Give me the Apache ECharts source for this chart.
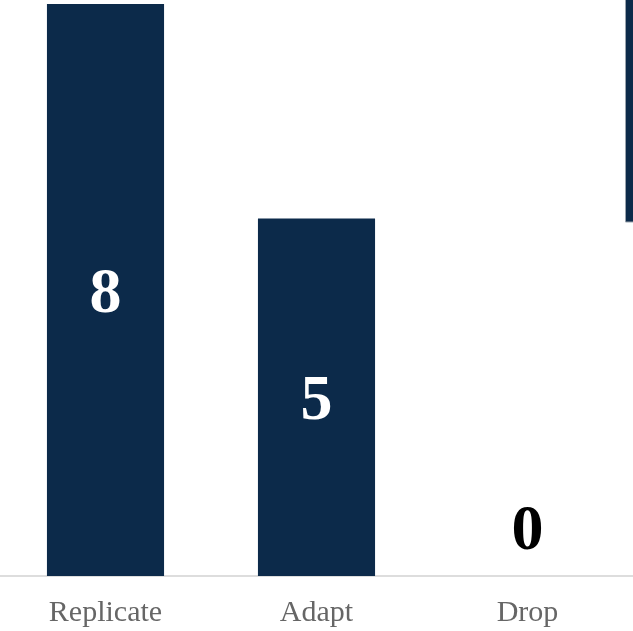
<!DOCTYPE html>
<html>
<head>
<meta charset="utf-8">
<script src="https://cdn.jsdelivr.net/npm/echarts@6/dist/echarts.min.js"></script>
<style>html,body{margin:0;padding:0;background:#fff;}#c{width:633px;height:631px;}</style>
</head>
<body>
<div id="c"></div>
<script>
var categories = ['Replicate', 'Adapt', 'Drop'];
var values = [8, 5, 0];

var chart = echarts.init(document.getElementById('c'), null, {renderer: 'canvas'});
chart.setOption({
  animation: false,
  backgroundColor: '#ffffff',
  grid: {left: -1, right: -5, top: 4, bottom: 55, containLabel: false},
  xAxis: {
    type: 'category',
    data: categories,
    axisLine: {show: true, lineStyle: {color: '#dddddd', width: 2}},
    axisTick: {show: false},
    axisLabel: {color: '#666666', fontFamily: 'Liberation Serif', fontSize: 30, margin: 22}
  },
  yAxis: {
    type: 'value', min: 0, max: 8,
    show: false,
    splitLine: {show: false}
  },
  series: [{
    type: 'bar',
    data: values.map(function (v) {
      return {
        value: v,
        label: v > 0
          ? {position: 'inside', color: '#ffffff', offset: [0, 5]}
          : {position: 'top', color: '#000000', distance: 12}
      };
    }),
    barWidth: '55.5%',
    itemStyle: {color: '#0c2a4a'},
    label: {
      show: true,
      fontFamily: 'Liberation Serif',
      fontWeight: 'bold',
      fontSize: 64
    }
  }],
  graphic: [{
    type: 'rect',
    shape: {x: 625.5, y: -5, width: 20, height: 227},
    style: {fill: '#0c2a4a', stroke: '#9aa3ad', lineWidth: 1}
  }]
});
</script>
</body>
</html>
